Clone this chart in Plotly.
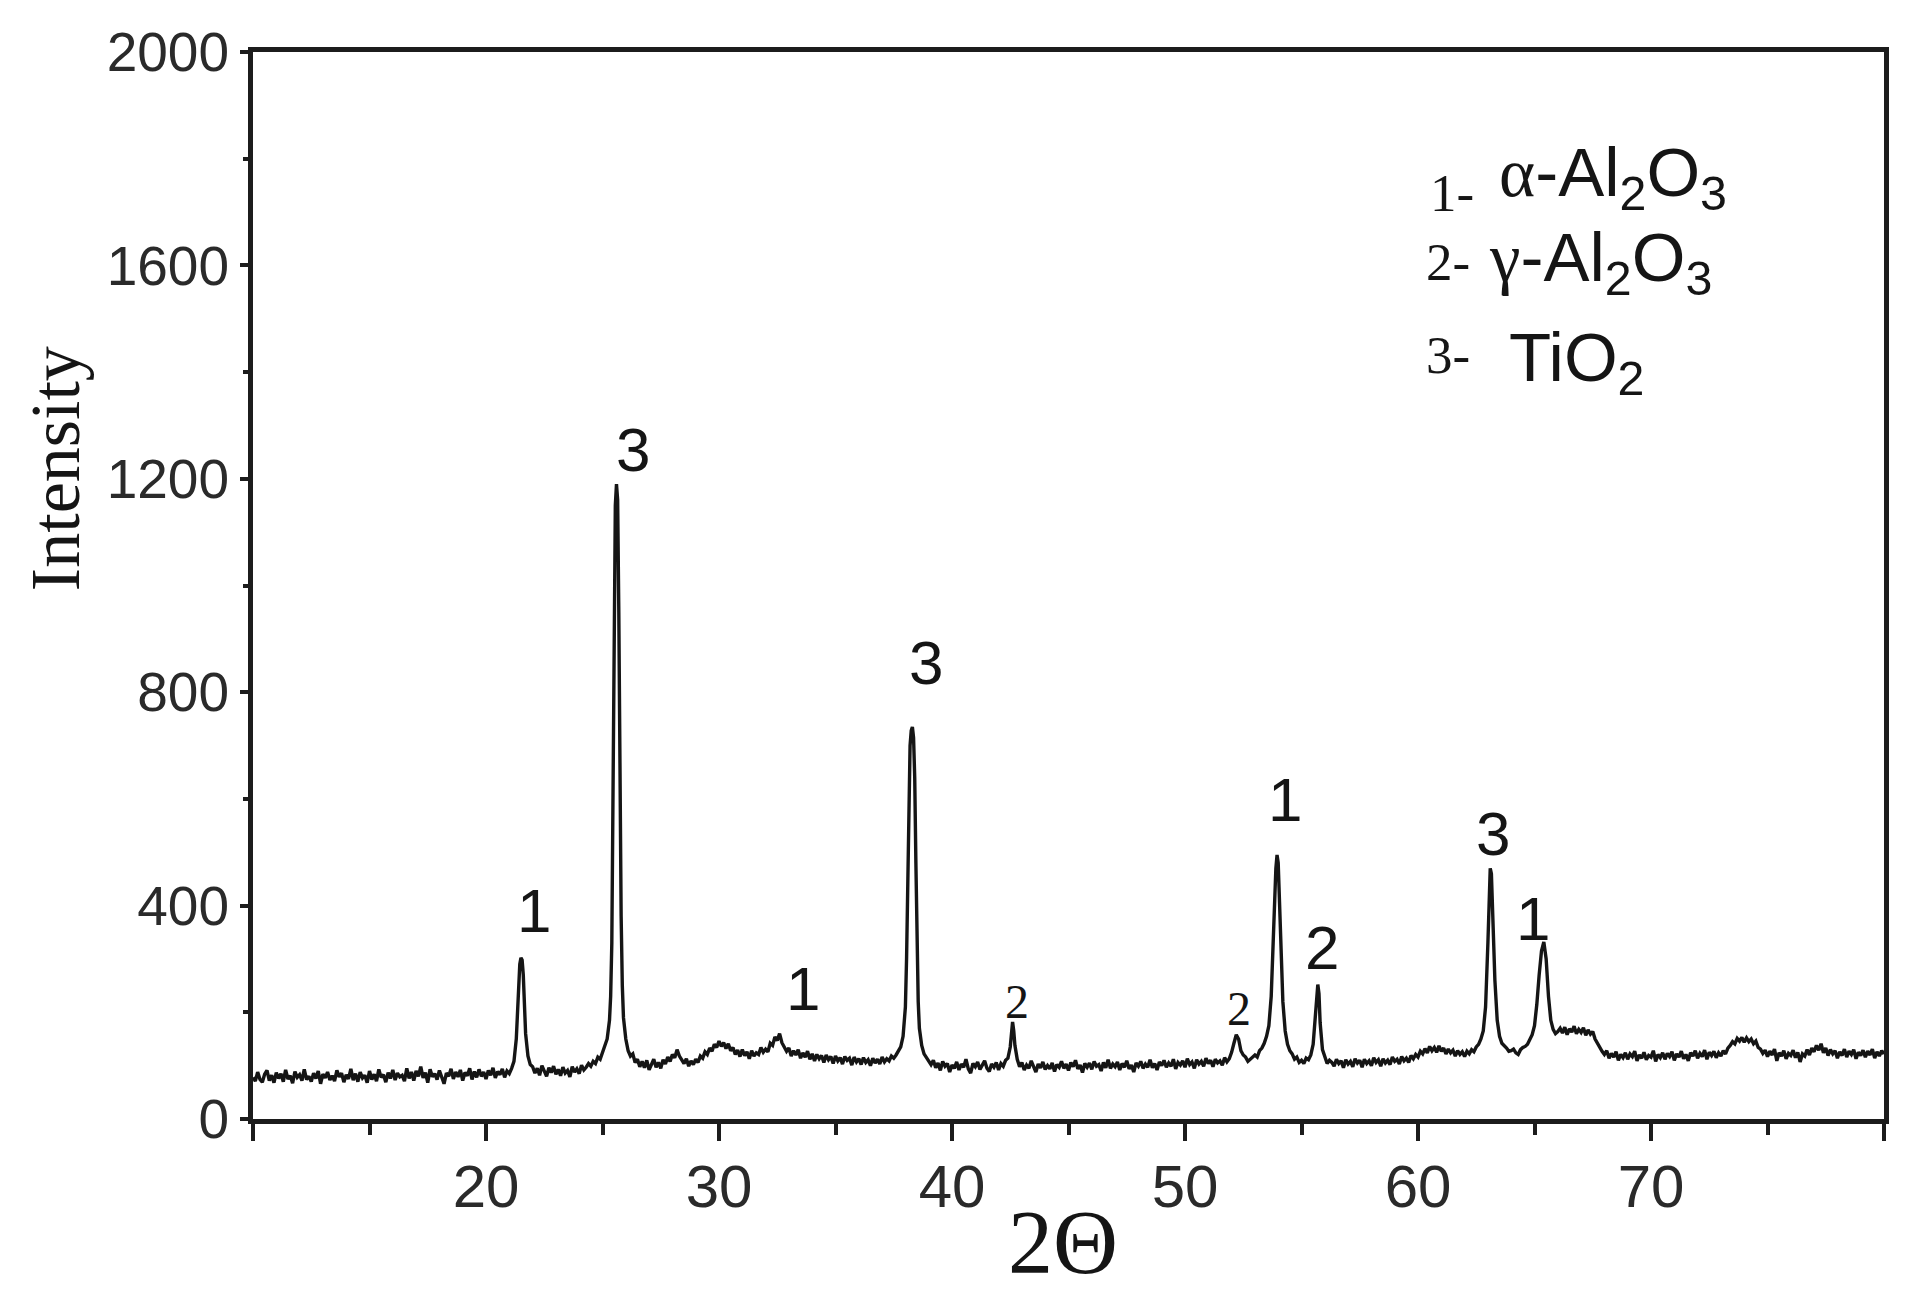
import plotly.graph_objects as go

# ---- XRD trace (2-theta, intensity) ----
seg_10_21 = [(10.0,78),(10.1,71),(10.2,88),(10.3,74),(10.4,69),(10.5,84),(10.6,91),(10.7,72),(10.8,82),(10.9,68),
             (11.0,87),(11.1,76),(11.2,85),(11.3,70),(11.4,92),(11.5,75),(11.6,81),(11.7,67),(11.8,89),(11.9,78),
             (12.0,83),(12.1,72),(12.2,93),(12.3,74),(12.4,80),(12.5,70),(12.6,86),(12.7,76),(12.8,90),(12.9,66),
             (13.0,84),(13.1,77),(13.2,88),(13.3,73),(13.4,81),(13.5,71),(13.6,91),(13.7,79),(13.8,86),(13.9,69),
             (14.0,83),(14.1,75),(14.2,94),(14.3,73),(14.4,85),(14.5,70),(14.6,88),(14.7,77),(14.8,82),(14.9,68),
             (15.0,90),(15.1,74),(15.2,84),(15.3,71),(15.4,93),(15.5,78),(15.6,83),(15.7,69),(15.8,87),(15.9,76),
             (16.0,92),(16.1,73),(16.2,86),(16.3,79),(16.4,82),(16.5,71),(16.6,95),(16.7,76),(16.8,88),(16.9,72),
             (17.0,90),(17.1,80),(17.2,98),(17.3,77),(17.4,87),(17.5,68),(17.6,93),(17.7,79),(17.8,85),(17.9,74),
             (18.0,91),(18.1,76),(18.2,66),(18.3,86),(18.4,80),(18.5,94),(18.6,75),(18.7,88),(18.8,79),(18.9,92),
             (19.0,72),(19.1,87),(19.2,81),(19.3,95),(19.4,74),(19.5,89),(19.6,78),(19.7,93),(19.8,80),(19.9,88),
             (20.0,75),(20.1,91),(20.2,82),(20.3,96),(20.4,77),(20.5,89),(20.6,83),(20.7,94),(20.8,78),(20.9,90),(21.0,85)]
seg_21_27 = [(21.1,95),(21.2,108),(21.3,150),(21.4,245),(21.45,290),(21.5,302),(21.55,298),(21.6,270),(21.65,215),
             (21.7,160),(21.8,118),(21.9,102),
             (22.0,98),(22.1,86),(22.2,95),(22.3,82),(22.4,100),(22.5,88),(22.6,80),(22.7,96),(22.8,87),(22.9,99),
             (23.0,84),(23.1,93),(23.2,81),(23.3,97),(23.4,86),(23.5,91),(23.6,79),(23.7,98),(23.8,88),(23.9,94),
             (24.0,85),(24.1,101),(24.2,92),(24.3,97),(24.4,104),(24.5,99),(24.6,108),(24.7,104),(24.8,116),(24.9,112),
             (25.0,125),(25.1,135),(25.2,150),(25.3,185),(25.35,230),(25.4,330),(25.45,560),(25.5,900),(25.55,1150),
             (25.6,1190),(25.65,1160),(25.7,950),(25.75,620),(25.8,380),(25.85,250),(25.9,190),(26.0,150),(26.1,128),
             (26.2,118),(26.3,122),(26.4,106),(26.5,112),(26.6,98)]
seg_27_37 = [(26.7,108),(26.8,96),(26.9,110),(27.0,92),(27.1,104),(27.2,112),(27.3,97),(27.4,106),(27.5,95),(27.6,111),
             (27.7,103),(27.8,116),(27.9,108),(28.0,121),(28.1,115),(28.2,130),(28.3,118),(28.4,110),(28.5,104),(28.6,113),
             (28.7,99),(28.8,109),(28.9,102),(29.0,112),(29.1,106),(29.2,118),(29.3,114),(29.4,126),(29.5,121),(29.6,133),
             (29.7,127),(29.8,140),(29.9,134),(30.0,146),(30.1,136),(30.2,143),(30.3,132),(30.4,141),(30.5,128),(30.6,134),
             (30.7,121),(30.8,129),(30.9,117),(31.0,130),(31.1,119),(31.2,126),(31.3,113),(31.4,128),(31.5,118),(31.6,124),
             (31.7,121),(31.8,134),(31.9,125),(32.0,131),(32.1,126),(32.2,142),(32.3,138),(32.4,154),(32.5,147),(32.6,160),
             (32.7,143),(32.8,135),(32.9,127),(33.0,133),(33.1,118),(33.2,128),(33.3,120),(33.4,130),(33.5,114),(33.6,124),
             (33.7,116),(33.8,127),(33.9,112),(34.0,122),(34.1,109),(34.2,121),(34.3,113),(34.4,119),(34.5,106),(34.6,120),
             (34.7,111),(34.8,117),(34.9,104),(35.0,118),(35.1,109),(35.2,115),(35.3,103),(35.4,117),(35.5,110),(35.6,114),
             (35.7,101),(35.8,116),(35.9,107),(36.0,113),(36.1,102),(36.2,115),(36.3,106),(36.4,111),(36.5,100),(36.6,114),
             (36.7,105),(36.8,112),(36.9,103),(37.0,116),(37.1,107),(37.2,113),(37.3,109),(37.4,118),(37.5,114)]
seg_37_43 = [(37.6,120),(37.7,128),(37.8,135),(37.9,155),(38.0,210),(38.05,300),(38.1,450),(38.15,610),(38.2,700),
             (38.25,728),(38.3,735),(38.35,715),(38.4,640),(38.45,480),(38.5,320),(38.55,220),(38.6,170),(38.7,138),
             (38.8,122),(38.9,115),(39.0,110),
             (39.1,102),(39.2,110),(39.3,96),(39.4,105),(39.5,91),(39.6,108),(39.7,99),(39.8,104),(39.9,88),(40.0,101),
             (40.1,95),(40.2,107),(40.3,92),(40.4,103),(40.5,97),(40.6,112),(40.7,94),(40.8,86),(40.9,104),(41.0,98),
             (41.1,107),(41.2,93),(41.3,101),(41.4,109),(41.5,95),(41.6,89),(41.7,103),(41.8,97),(41.9,106),(42.0,92),
             (42.1,104),(42.2,99),(42.3,110),(42.4,114),(42.5,135),(42.55,160),(42.6,182),(42.65,165),(42.7,138),(42.8,112)]
seg_43_52 = [(42.9,98),(43.0,106),(43.1,92),(43.2,101),(43.3,95),(43.4,109),(43.5,97),(43.6,88),(43.7,103),(43.8,96),
             (43.9,107),(44.0,93),(44.1,100),(44.2,94),(44.3,105),(44.4,89),(44.5,102),(44.6,97),(44.7,108),(44.8,95),
             (44.9,103),(45.0,91),(45.1,106),(45.2,98),(45.3,110),(45.4,94),(45.5,101),(45.6,87),(45.7,104),(45.8,97),
             (45.9,105),(46.0,93),(46.1,108),(46.2,99),(46.3,102),(46.4,90),(46.5,106),(46.6,96),(46.7,111),(46.8,95),
             (46.9,103),(47.0,98),(47.1,107),(47.2,92),(47.3,104),(47.4,97),(47.5,109),(47.6,94),(47.7,101),(47.8,88),
             (47.9,105),(48.0,99),(48.1,108),(48.2,95),(48.3,103),(48.4,97),(48.5,111),(48.6,96),(48.7,104),(48.8,92),
             (48.9,107),(49.0,100),(49.1,110),(49.2,97),(49.3,105),(49.4,99),(49.5,112),(49.6,94),(49.7,106),(49.8,101),
             (49.9,109),(50.0,97),(50.1,113),(50.2,102),(50.3,107),(50.4,95),(50.5,111),(50.6,103),(50.7,108),(50.8,99),
             (50.9,114),(51.0,104),(51.1,110),(51.2,98),(51.3,112),(51.4,105),(51.5,109),(51.6,101),(51.7,115),(51.8,107),
             (51.9,113)]
seg_52_56 = [(52.0,125),(52.1,142),(52.2,158),(52.3,150),(52.4,128),(52.5,120),(52.6,116),(52.7,108),(52.8,112),
             (52.9,118),(53.0,120),(53.1,116),(53.2,128),(53.3,133),(53.4,142),(53.5,155),(53.6,175),(53.7,230),
             (53.8,330),(53.85,410),(53.9,470),(53.95,495),(54.0,480),(54.05,420),(54.1,330),(54.2,220),(54.3,165),
             (54.4,140),(54.5,128),(54.6,122),(54.7,112),(54.8,116),(54.9,106),(55.0,110),(55.1,104),(55.2,114),
             (55.3,111),(55.4,120),(55.5,140),(55.6,200),(55.65,240),(55.7,252),(55.75,235),(55.8,180),(55.9,130),
             (56.0,115),(56.1,104),(56.2,110)]
seg_56_62 = [(56.3,106),(56.4,99),(56.5,112),(56.6,104),(56.7,109),(56.8,96),(56.9,111),(57.0,103),(57.1,108),(57.2,98),
             (57.3,113),(57.4,105),(57.5,110),(57.6,97),(57.7,112),(57.8,104),(57.9,109),(58.0,100),(58.1,115),(58.2,106),
             (58.3,111),(58.4,99),(58.5,113),(58.6,105),(58.7,110),(58.8,102),(58.9,116),(59.0,108),(59.1,112),(59.2,103),
             (59.3,117),(59.4,109),(59.5,114),(59.6,106),(59.7,119),(59.8,113),(59.9,121),(60.0,116),(60.1,127),(60.2,122),
             (60.3,132),(60.4,124),(60.5,136),(60.6,128),(60.7,134),(60.8,125),(60.9,137),(61.0,127),(61.1,133),(61.2,122),
             (61.3,131),(61.4,124),(61.5,129),(61.6,118),(61.7,128),(61.8,121),(61.9,126),(62.0,117),(62.1,127),(62.2,122),
             (62.3,130),(62.4,126),(62.5,135)]
seg_62_66 = [(62.6,140),(62.7,150),(62.8,165),(62.9,210),(63.0,330),(63.05,420),(63.1,470),(63.15,460),(63.2,400),
             (63.3,260),(63.4,185),(63.5,155),(63.6,142),(63.7,138),(63.8,133),(63.9,127),(64.0,128),(64.1,131),
             (64.2,124),(64.3,121),(64.4,130),(64.5,134),(64.6,136),(64.7,140),(64.8,148),(64.9,158),(65.0,175),
             (65.1,215),(65.2,270),(65.3,315),(65.4,332),(65.5,300),(65.6,230),(65.7,185),(65.8,168),(65.9,160),(66.0,164)]
seg_66_80 = [(66.1,170),(66.2,161),(66.3,172),(66.4,158),(66.5,169),(66.6,163),(66.7,174),(66.8,160),(66.9,168),(67.0,162),
             (67.1,171),(67.2,157),(67.3,167),(67.4,159),(67.5,164),(67.6,150),(67.7,142),(67.8,133),(67.9,127),(68.0,121),
             (68.1,128),(68.2,114),(68.3,123),(68.4,116),(68.5,126),(68.6,110),(68.7,121),(68.8,115),(68.9,124),(69.0,112),
             (69.1,122),(69.2,117),(69.3,127),(69.4,109),(69.5,120),(69.6,114),(69.7,125),(69.8,111),(69.9,119),(70.0,116),
             (70.1,128),(70.2,108),(70.3,121),(70.4,115),(70.5,124),(70.6,112),(70.7,123),(70.8,117),(70.9,126),(71.0,110),
             (71.1,122),(71.2,116),(71.3,127),(71.4,113),(71.5,121),(71.6,109),(71.7,124),(71.8,118),(71.9,128),(72.0,114),
             (72.1,123),(72.2,117),(72.3,129),(72.4,112),(72.5,125),(72.6,119),(72.7,127),(72.8,115),(72.9,124),(73.0,118),
             (73.1,128),(73.2,122),(73.3,133),(73.4,138),(73.5,145),(73.6,141),(73.7,151),(73.8,146),(73.9,153),(74.0,144),
             (74.1,152),(74.2,145),(74.3,150),(74.4,141),(74.5,146),(74.6,134),(74.7,131),(74.8,123),(74.9,129),(75.0,117),
             (75.1,127),(75.2,120),(75.3,131),(75.4,109),(75.5,124),(75.6,118),(75.7,128),(75.8,113),(75.9,123),(76.0,119),
             (76.1,129),(76.2,115),(76.3,125),(76.4,107),(76.5,122),(76.6,118),(76.7,130),(76.8,120),(76.9,133),(77.0,126),
             (77.1,138),(77.2,129),(77.3,141),(77.4,124),(77.5,133),(77.6,119),(77.7,130),(77.8,122),(77.9,128),(78.0,114),
             (78.1,126),(78.2,119),(78.3,131),(78.4,116),(78.5,127),(78.6,121),(78.7,130),(78.8,113),(78.9,125),(79.0,119),
             (79.1,129),(79.2,116),(79.3,127),(79.4,120),(79.5,131),(79.6,114),(79.7,126),(79.8,118),(79.9,128),(80.0,122)]

segments = [seg_10_21, seg_21_27, seg_27_37, seg_37_43, seg_43_52, seg_52_56, seg_56_62, seg_62_66, seg_66_80]
two_theta = [p[0] for s in segments for p in s]
intensity = [p[1] for s in segments for p in s]

# ---- peak labels (phase numbers) ----
peak_labels = ["1", "3", "1", "3", "1", "2", "3", "1"]
peak_label_x = [22.05, 26.3, 33.6, 38.9, 54.3, 55.9, 63.2, 64.95]
peak_label_y = [390, 1255, 245, 855, 598, 322, 535, 375]
small_labels = ["2", "2"]
small_label_x = [42.8, 52.3]
small_label_y = [220, 207]

# ---- phase key ----
key_numbers = ["1-", "2-", "3-"]
key_number_x = [60.45, 60.25, 60.25]
key_number_y = [1736, 1606, 1432]
key_formulas = ["\u03b1-Al<sub>2</sub>O<sub>3</sub>", "\u03b3-Al<sub>2</sub>O<sub>3</sub>", "TiO<sub>2</sub>"]
key_formula_x = [63.4, 62.95, 63.8]
key_formula_y = [1766, 1606, 1419]

# ---- axes ----
x_tick_vals = [10, 20, 30, 40, 50, 60, 70, 80]
x_tick_text = ["", "20", "30", "40", "50", "60", "70", ""]
x_minor_vals = [15, 25, 35, 45, 55, 65, 75]
y_tick_vals = [0, 400, 800, 1200, 1600, 2000]
y_minor_vals = [200, 600, 1000, 1400, 1800]

SANS = "Liberation Sans, Arial, sans-serif"
SERIF_NAME = "Liberation Serif"
SERIF = "Liberation Serif, Times New Roman, serif"
INK = "#151515"
AXIS = "#1c1c1c"

fig = go.Figure()
fig.add_trace(go.Scatter(x=two_theta, y=intensity, mode="lines",
                         line=dict(color=INK, width=3.4), showlegend=False, hoverinfo="skip"))
# empty trace so the overlaid tick-only axis is drawn
fig.add_trace(go.Scatter(x=[], y=[], xaxis="x2", yaxis="y", mode="lines",
                         showlegend=False, hoverinfo="skip"))

axis_common = dict(showline=True, linecolor=AXIS, linewidth=5, mirror=True,
                   ticks="outside", tickcolor=AXIS, tickwidth=4,
                   showgrid=False, zeroline=False)

fig.update_layout(
    xaxis=dict(range=[10, 80], tickmode="array", tickvals=x_tick_vals, ticktext=x_tick_text,
               ticklen=11, tickfont=dict(family=SANS, size=60, color="#2a2a2a"),
               minor=dict(tickmode="array", tickvals=x_minor_vals, ticks="outside",
                          ticklen=11, tickwidth=4, tickcolor=AXIS),
               **axis_common),
    xaxis2=dict(overlaying="x", anchor="y", side="bottom", range=[10, 80],
                tickmode="array", tickvals=x_tick_vals, ticks="outside", ticklen=21,
                tickwidth=4, tickcolor=AXIS, showticklabels=False, showline=False,
                showgrid=False, zeroline=False),
    yaxis=dict(range=[0, 2000], tickmode="array", tickvals=y_tick_vals,
               ticklen=8, tickfont=dict(family=SANS, size=55, color="#2a2a2a"),
               minor=dict(tickmode="array", tickvals=y_minor_vals, ticks="outside",
                          ticklen=5, tickwidth=4, tickcolor=AXIS),
               **axis_common),
)

annotations = []
for t, x, y in zip(peak_labels, peak_label_x, peak_label_y):
    annotations.append(dict(x=x, y=y, xref="x", yref="y", text=t, showarrow=False,
                            font=dict(family=SANS, size=62, color=INK),
                            xanchor="center", yanchor="middle"))
for t, x, y in zip(small_labels, small_label_x, small_label_y):
    annotations.append(dict(x=x, y=y, xref="x", yref="y", text=t, showarrow=False,
                            font=dict(family=SERIF, size=48, color=INK),
                            xanchor="center", yanchor="middle"))
for t, x, y in zip(key_numbers, key_number_x, key_number_y):
    annotations.append(dict(x=x, y=y, xref="x", yref="y", text=t, showarrow=False,
                            font=dict(family=SERIF, size=53, color=INK),
                            xanchor="left", yanchor="middle"))
for i, (t, x, y) in enumerate(zip(key_formulas, key_formula_x, key_formula_y)):
    if i < 2:
        t = '<span style="font-family:%s">%s</span>%s' % (SERIF_NAME, t[0], t[1:])
    annotations.append(dict(x=x, y=y, xref="x", yref="y", text=t, showarrow=False,
                            font=dict(family=SANS, size=69, color=INK),
                            xanchor="left", yanchor="middle", align="left"))

annotations.append(dict(x=-0.1214, y=0.610, xref="paper", yref="paper", text="Intensity",
                        textangle=-90, showarrow=False,
                        font=dict(family=SERIF, size=70, color=INK),
                        xanchor="center", yanchor="middle"))
annotations.append(dict(x=0.4966, y=-0.116, xref="paper", yref="paper", text="2\u0398",
                        showarrow=False, font=dict(family=SERIF, size=90, color=INK),
                        xanchor="center", yanchor="middle"))

fig.update_layout(width=1908, height=1298,
                  margin=dict(l=253, r=24, t=52, b=179, autoexpand=False),
                  paper_bgcolor="white", plot_bgcolor="white",
                  annotations=annotations, showlegend=False)

fig.write_html("out.html", config={"displayModeBar": False},
               post_script="document.body.style.margin='0';")
